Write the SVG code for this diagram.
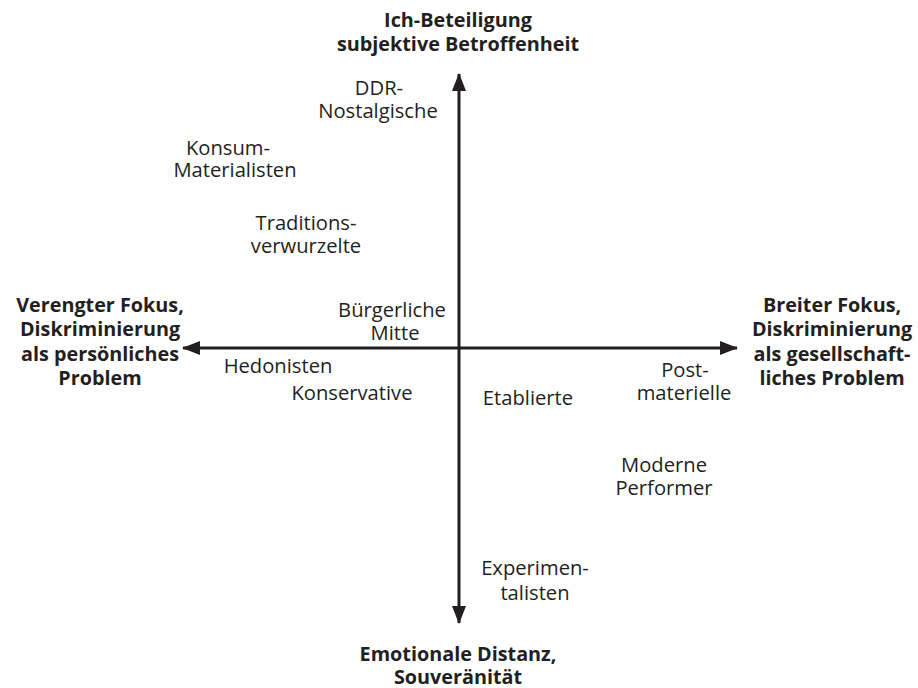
<svg xmlns="http://www.w3.org/2000/svg" width="918" height="688" viewBox="0 0 918 688">
  <style>
    text { font-family: "Open Sans", "Noto Sans", "DejaVu Sans", sans-serif; fill: #231f20; text-anchor: middle; }
    .axis-label { font-size: 19.8px; font-weight: bold; }
    .segment { font-size: 20.2px; font-weight: normal; }
    .axis { stroke: #231f20; stroke-width: 3; fill: none; }
  </style>
  <defs>
    <marker id="arrowhead" markerUnits="userSpaceOnUse" markerWidth="20" markerHeight="14" refX="17" refY="7" orient="auto">
      <path d="M0,0 L18,7 L0,14 Z" fill="#231f20"/>
    </marker>
  </defs>
  <rect width="918" height="688" fill="#ffffff"/>

  <!-- axes -->
  <g id="connectors">
    <line class="axis" x1="459" y1="348" x2="459" y2="74" marker-end="url(#arrowhead)"/>
    <line class="axis" x1="459" y1="348" x2="459" y2="623" marker-end="url(#arrowhead)"/>
    <line class="axis" x1="459" y1="348" x2="183" y2="348" marker-end="url(#arrowhead)"/>
    <line class="axis" x1="459" y1="348" x2="737" y2="348" marker-end="url(#arrowhead)"/>
  </g>

  <!-- axis end labels -->
  <g id="label-top">
    <text class="axis-label" x="458" y="27">Ich-Beteiligung</text>
    <text class="axis-label" x="458" y="51">subjektive Betroffenheit</text>
  </g>
  <g id="label-bottom">
    <text class="axis-label" x="458" y="661">Emotionale Distanz,</text>
    <text class="axis-label" x="458" y="684">Souveränität</text>
  </g>
  <g id="label-left">
    <text class="axis-label" x="100" y="312">Verengter Fokus,</text>
    <text class="axis-label" x="100" y="336">Diskriminierung</text>
    <text class="axis-label" x="100" y="361">als persönliches</text>
    <text class="axis-label" x="100" y="385">Problem</text>
  </g>
  <g id="label-right">
    <text class="axis-label" x="832" y="312">Breiter Fokus,</text>
    <text class="axis-label" x="832" y="336">Diskriminierung</text>
    <text class="axis-label" x="832" y="361">als gesellschaft-</text>
    <text class="axis-label" x="832" y="385">liches Problem</text>
  </g>

  <!-- milieu segments -->
  <g id="ddr-nostalgische">
    <text class="segment" x="379" y="95">DDR-</text>
    <text class="segment" x="378" y="118">Nostalgische</text>
  </g>
  <g id="konsum-materialisten">
    <text class="segment" x="228" y="155">Konsum-</text>
    <text class="segment" x="235" y="177">Materialisten</text>
  </g>
  <g id="traditionsverwurzelte">
    <text class="segment" x="306" y="230">Traditions-</text>
    <text class="segment" x="306" y="253">verwurzelte</text>
  </g>
  <g id="buergerliche-mitte">
    <text class="segment" x="392" y="317">Bürgerliche</text>
    <text class="segment" x="395" y="340">Mitte</text>
  </g>
  <g id="hedonisten">
    <text class="segment" x="278" y="373">Hedonisten</text>
  </g>
  <g id="konservative">
    <text class="segment" x="352" y="400">Konservative</text>
  </g>
  <g id="etablierte">
    <text class="segment" x="528" y="405">Etablierte</text>
  </g>
  <g id="postmaterielle">
    <text class="segment" x="685" y="377">Post-</text>
    <text class="segment" x="684" y="400">materielle</text>
  </g>
  <g id="moderne-performer">
    <text class="segment" x="664" y="472">Moderne</text>
    <text class="segment" x="664" y="495">Performer</text>
  </g>
  <g id="experimentalisten">
    <text class="segment" x="535" y="575">Experimen-</text>
    <text class="segment" x="535" y="600">talisten</text>
  </g>
</svg>
